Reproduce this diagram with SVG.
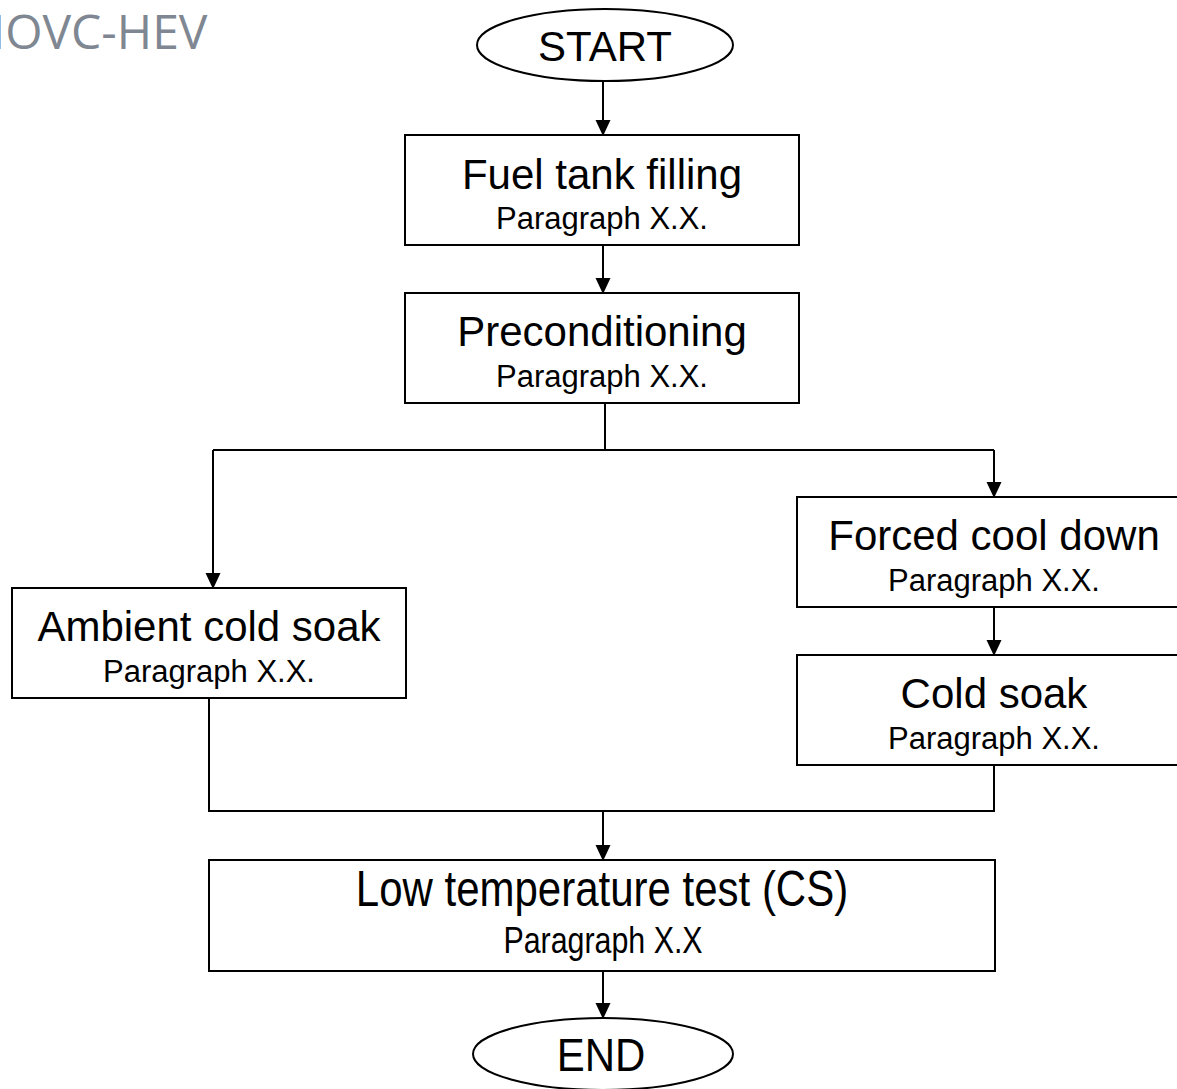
<svg xmlns="http://www.w3.org/2000/svg" width="1177" height="1089" viewBox="0 0 1177 1089">
<defs>
<marker id="arr" markerUnits="userSpaceOnUse" markerWidth="16" markerHeight="16" refX="15" refY="7.5" orient="auto">
<path d="M0,0 L16,7.5 L0,15 Z" fill="#000"/>
</marker>
<style>
.box{fill:#fff;stroke:#000;stroke-width:2}
.t{font-family:"Liberation Sans",Arial,sans-serif;font-size:42px;fill:#000;text-anchor:middle}
.p{font-family:"Liberation Sans",Arial,sans-serif;font-size:31px;fill:#000;text-anchor:middle}
.c{fill:none;stroke:#000;stroke-width:2}
</style>
</defs>
<rect width="1177" height="1089" fill="#fff"/>
<text x="-31" y="49" font-family="'Open Sans',sans-serif" font-size="48" fill="#7F8792">NOVC-HEV</text>
<g id="connectors">
<line class="c" x1="603" y1="81" x2="603" y2="135" marker-end="url(#arr)"/>
<line class="c" x1="603" y1="245" x2="603" y2="293" marker-end="url(#arr)"/>
<polyline class="c" points="605,403 605,450"/>
<polyline class="c" points="213,450 994,450"/>
<line class="c" x1="213" y1="450" x2="213" y2="588" marker-end="url(#arr)"/>
<line class="c" x1="994" y1="450" x2="994" y2="497" marker-end="url(#arr)"/>
<line class="c" x1="994" y1="607" x2="994" y2="655" marker-end="url(#arr)"/>
<polyline class="c" points="209,698 209,811 994,811 994,765"/>
<line class="c" x1="603" y1="811" x2="603" y2="860" marker-end="url(#arr)"/>
<line class="c" x1="603" y1="971" x2="603" y2="1018" marker-end="url(#arr)"/>
</g>
<g id="start">
<ellipse class="box" cx="605" cy="45" rx="128" ry="36"/>
<text class="t" x="605" y="61">START</text>
</g>
<g id="fuel">
<rect class="box" x="405" y="135" width="394" height="110"/>
<text class="t" x="602" y="189">Fuel tank filling</text>
<text class="p" x="602" y="229">Paragraph X.X.</text>
</g>
<g id="precond">
<rect class="box" x="405" y="293" width="394" height="110"/>
<text class="t" x="602" y="346">Preconditioning</text>
<text class="p" x="602" y="387">Paragraph X.X.</text>
</g>
<g id="ambient">
<rect class="box" x="12" y="588" width="394" height="110"/>
<text class="t" x="209" y="641">Ambient cold soak</text>
<text class="p" x="209" y="682">Paragraph X.X.</text>
</g>
<g id="forced">
<rect class="box" x="797" y="497" width="394" height="110"/>
<text class="t" x="994" y="550">Forced cool down</text>
<text class="p" x="994" y="591">Paragraph X.X.</text>
</g>
<g id="coldsoak">
<rect class="box" x="797" y="655" width="394" height="110"/>
<text class="t" x="994" y="708">Cold soak</text>
<text class="p" x="994" y="749">Paragraph X.X.</text>
</g>
<g id="lowtemp">
<rect class="box" x="209" y="860" width="786" height="111"/>
<text class="t" transform="translate(602,906) scale(1,1.2)">Low temperature test (CS)</text>
<text class="p" transform="translate(603,953) scale(0.98,1.2)">Paragraph X.X</text>
</g>
<g id="end">
<ellipse class="box" cx="603" cy="1054" rx="130" ry="36"/>
<text class="t" transform="translate(601,1071) scale(1,1.12)">END</text>
</g>
</svg>
